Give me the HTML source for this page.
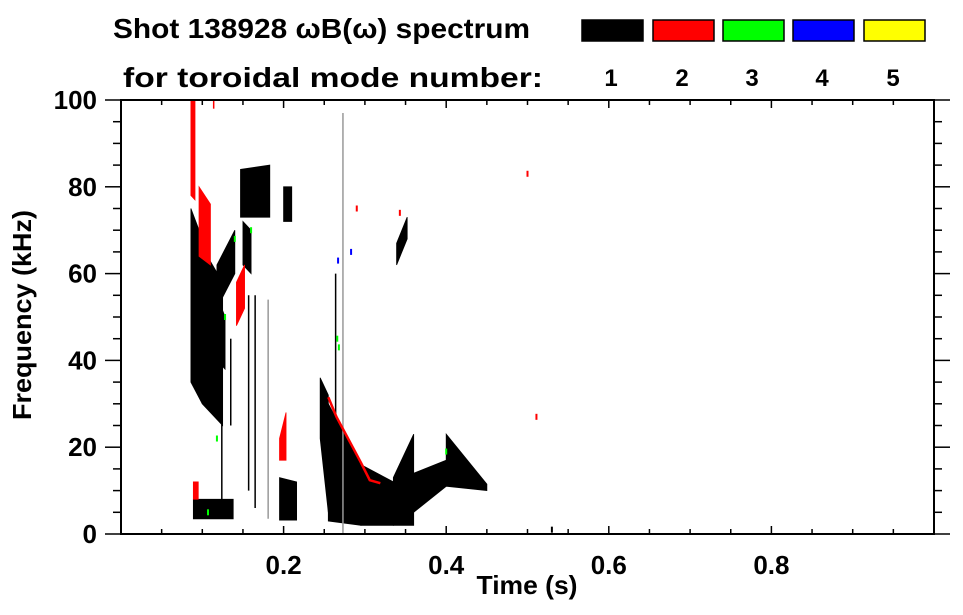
<!DOCTYPE html>
<html><head><meta charset="utf-8"><style>
html,body{margin:0;padding:0;background:#fff;}
svg{display:block;font-family:"Liberation Sans",Arial,sans-serif;font-weight:bold;}
</style></head><body>
<svg id="chart" width="963" height="615" viewBox="0 0 963 615" xmlns="http://www.w3.org/2000/svg">
<rect x="0" y="0" width="963" height="615" fill="#fff"/>
<text x="113" y="38" font-size="28" textLength="417" lengthAdjust="spacingAndGlyphs">Shot 138928 ωB(ω) spectrum</text>
<text x="123" y="87" font-size="28" textLength="420" lengthAdjust="spacingAndGlyphs">for toroidal mode number:</text>
<g id="legend"></g>
<g id="marks"></g>
<g id="axes"></g>
<text x="527" y="594" font-size="26" text-anchor="middle" textLength="101" lengthAdjust="spacingAndGlyphs">Time (s)</text>
<text x="0" y="0" font-size="26" text-anchor="middle" textLength="210" lengthAdjust="spacingAndGlyphs" transform="translate(31,315) rotate(-90)">Frequency (kHz)</text>
</svg>
<script>
// ---- data ----
const modeNumbers = [1, 2, 3, 4, 5];
const modeColors = ["#000000", "#ff0000", "#00ff00", "#0000ff", "#ffff00"];
const xTicks = [0.2, 0.4, 0.6, 0.8];
const xTickLabels = ["0.2", "0.4", "0.6", "0.8"];
const yTicks = [0, 20, 40, 60, 80, 100];
const yTickLabels = ["0", "20", "40", "60", "80", "100"];
// blobs: time start/end, freq low/high at start, freq low/high at end, mode
const blobT0   = [0.086,0.100,0.118,0.089,0.147,0.150,0.200,0.195,0.245,0.255,0.295,0.335,0.360,0.400,0.339,0.086,0.096,0.142,0.089,0.195,0.118];
const blobT1   = [0.100,0.125,0.140,0.138,0.183,0.160,0.210,0.216,0.255,0.295,0.335,0.360,0.400,0.450,0.352,0.091,0.110,0.152,0.095,0.203,0.128];
const blobLo0  = [35,30,52,3.5,73,62,72,3.2,22,3,2,2,5,11,62,78,64,48,8,17,40];
const blobHi0  = [75,66,62,8,84,72,80,13,36,30,16,13,14,23,67,100,80,58,12,22,55];
const blobLo1  = [30,25,60,3.5,73,60,72,3.2,5,2,2,2,11,10,68,77,62,52,8,17,38];
const blobHi1  = [68,58,70,8,85,70,80,12,32,16,12,23,17,11.5,73,100,76,62,12,28,50];
const blobMode = [1,1,1,1,1,1,1,1,1,1,1,1,1,1,1,2,2,2,2,2,1];
// thin vertical streaks
const streakT   = [0.124,0.135,0.157,0.165,0.181,0.273,0.264,0.114];
const streakLo  = [8,25,10,6,3.5,0,20,98];
const streakHi  = [50,45,55,55,54,97,60,100];
const streakMode= [1,1,1,1,0,0,1,2];
// chirping mode-2 line
const redLineT = [0.255,0.265,0.275,0.285,0.295,0.306,0.319];
const redLineF = [31.5,27,23.5,20,16.5,12.4,11.7];
// scattered points
const dotT    = [0.140,0.160,0.128,0.283,0.267,0.266,0.268,0.400,0.500,0.511,0.343,0.118,0.107,0.290,0.530];
const dotF    = [68,70,50,65,63,45,43,19,83,27,74,22,5,75,1];
const dotMode = [3,3,3,4,4,3,3,3,2,2,2,3,3,2,1];

// ---- scales ----
const X0 = 121, X1 = 934, Y0 = 534, Y1 = 100;
function xs(t){ return X0 + t * (X1 - X0) / 1.0; }
function ys(f){ return Y0 - f * (Y0 - Y1) / 100; }
const NS = "http://www.w3.org/2000/svg";
function mk(tag, attrs, parent){
  const e = document.createElementNS(NS, tag);
  for (const k in attrs) e.setAttribute(k, attrs[k]);
  parent.appendChild(e); return e;
}
const marks = document.getElementById("marks");
const axes = document.getElementById("axes");
const legend = document.getElementById("legend");

// legend
const boxX = [582, 653, 723, 793, 864];
modeNumbers.forEach((m, i) => {
  const r = mk("rect", {x: boxX[i], y: 20, width: 61, height: 21, fill: modeColors[i], stroke: "#000", "stroke-width": 1.5}, legend);
  
  
  const t = mk("text", {x: boxX[i] + 29, y: 86, "font-size": 24, "text-anchor": "middle"}, legend);
  t.textContent = String(m);
  
  
});

// blobs
blobT0.forEach((t0, i) => {
  const t1 = blobT1[i];
  const col = modeColors[blobMode[i]-1];
  const pts = [[xs(t0), ys(blobHi0[i])],[xs(t1), ys(blobHi1[i])],[xs(t1), ys(blobLo1[i])],[xs(t0), ys(blobLo0[i])]];
  const p = mk("polygon", {points: pts.map(q => q.join(",")).join(" "), fill: col, stroke: col, "stroke-width": 0.8}, marks);
  
  
});
// streaks
streakT.forEach((t, i) => {
  const col = streakMode[i] === 0 ? "#999" : modeColors[streakMode[i]-1];
  const l = mk("line", {x1: xs(t), x2: xs(t), y1: ys(streakLo[i]), y2: ys(streakHi[i]), stroke: col, "stroke-width": 1.5}, marks);
  
  
});
// red line
const rl = mk("polyline", {points: redLineT.map((t, i) => xs(t) + "," + ys(redLineF[i])).join(" "), fill: "none", stroke: "#ff0000", "stroke-width": 2.5}, marks);


// dots
dotT.forEach((t, i) => {
  const r = mk("rect", {x: xs(t) - 1, y: ys(dotF[i]) - 3, width: 2, height: 6, fill: modeColors[dotMode[i]-1]}, marks);
  
  
});

// axes frame
const frame = mk("rect", {x: X0, y: Y1, width: X1 - X0, height: Y0 - Y1, fill: "none", stroke: "#000", "stroke-width": 2}, axes);


// x ticks
for (let k = 1; k < 20; k++) {
  const t = k * 0.05, x = xs(t), major = (k % 4 === 0), len = major ? 8 : 5;
  mk("line", {x1: x, x2: x, y1: Y0, y2: Y0 - len, stroke: "#000", "stroke-width": 1.5}, axes);
  mk("line", {x1: x, x2: x, y1: Y1, y2: Y1 + len, stroke: "#000", "stroke-width": 1.5}, axes);
}
xTicks.forEach((t, i) => {
  const tx = mk("text", {x: xs(t), y: 574, "font-size": 26, "text-anchor": "middle"}, axes);
  tx.textContent = xTickLabels[i];
  
  
});
// y ticks
for (let k = 0; k <= 20; k++) {
  const f = k * 5, y = ys(f), major = (k % 4 === 0), len = major ? 16 : 8;
  mk("line", {x1: X0, x2: X0 - len, y1: y, y2: y, stroke: "#000", "stroke-width": 1.5}, axes);
  mk("line", {x1: X1, x2: X1 + len, y1: y, y2: y, stroke: "#000", "stroke-width": 1.5}, axes);
}
yTicks.forEach((f, i) => {
  const tx = mk("text", {x: 97, y: ys(f) + 9, "font-size": 26, "text-anchor": "end"}, axes);
  tx.textContent = yTickLabels[i];
  
  
});
</script>
</body></html>
